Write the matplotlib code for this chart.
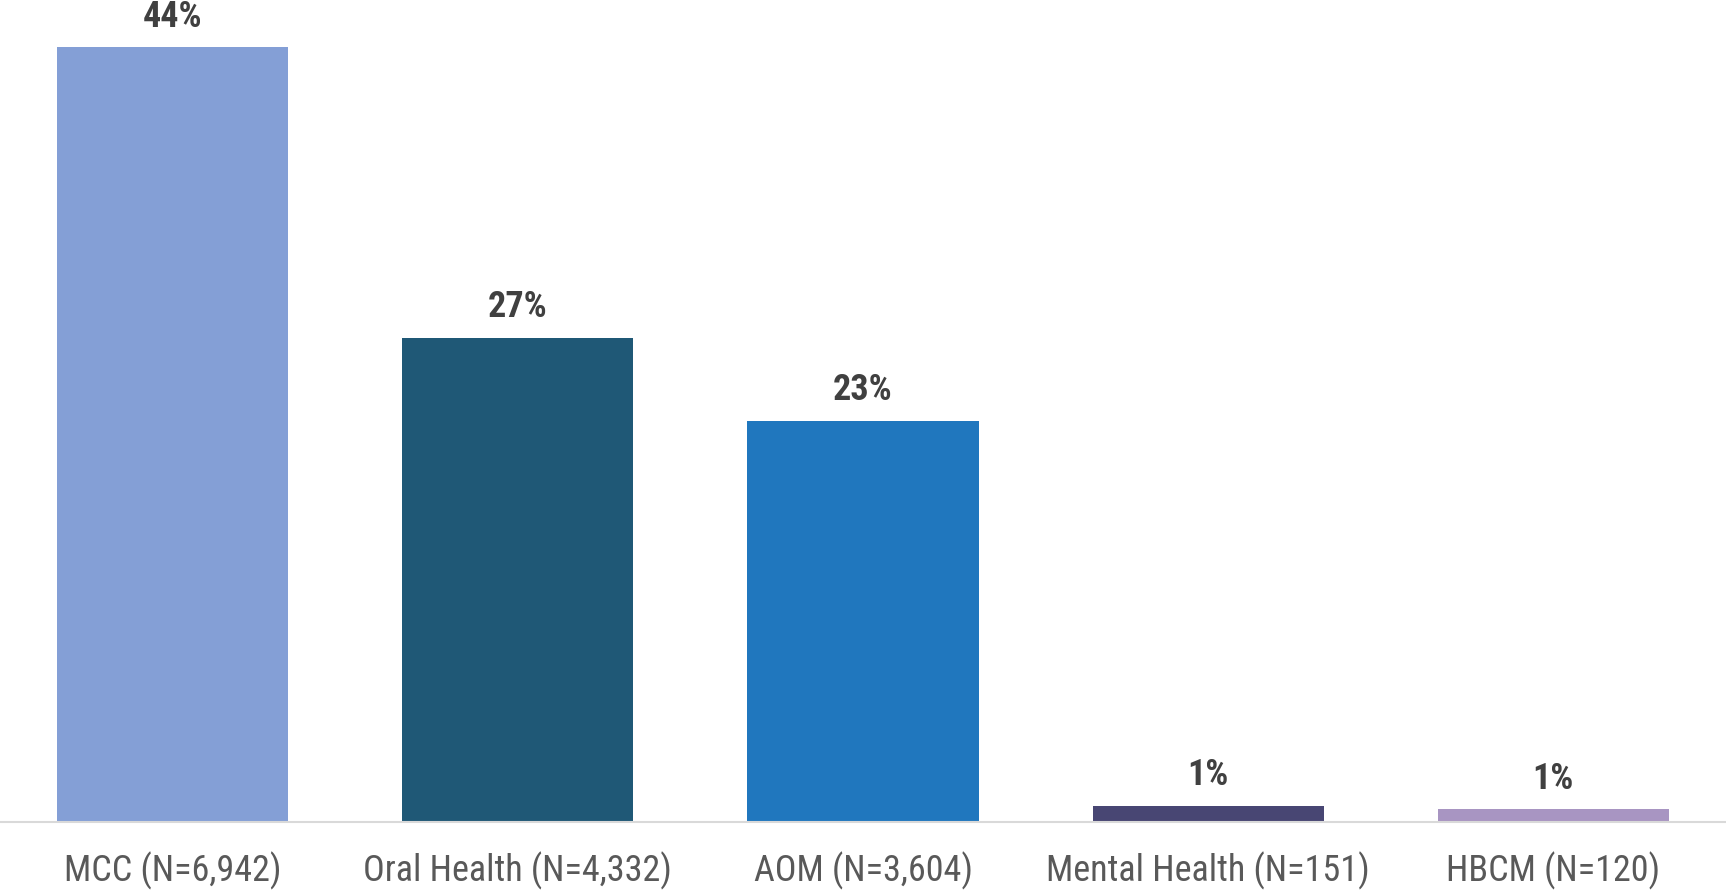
import matplotlib
matplotlib.use('Agg')
import matplotlib.pyplot as plt
from matplotlib import font_manager

categories = ['MCC (N=6,942)', 'Oral Health (N=4,332)', 'AOM (N=3,604)',
              'Mental Health (N=151)', 'HBCM (N=120)']
values = [44.0, 27.5, 22.8, 0.96, 0.76]
labels = ['44%', '27%', '23%', '1%', '1%']
colors = ['#849FD6', '#1F5876', '#2077BE', '#484673', '#A895C2']

# narrow font if there is one, otherwise plain Liberation Sans a bit smaller
names = {f.name for f in font_manager.fontManager.ttflist}
narrow = [n for n in ['Liberation Sans Narrow', 'Arial Narrow', 'Roboto Condensed',
                      'Open Sans Condensed', 'Noto Sans Condensed'] if n in names]
if narrow:
    family, tick_size, lab_size = narrow[0], 26, 26
else:
    family, tick_size, lab_size = 'Liberation Sans', 23, 23
plt.rcParams['font.family'] = [family, 'DejaVu Sans']

fig = plt.figure(figsize=(17.26, 8.93), dpi=100)
ax = fig.add_axes([0.0, 0.079, 1.0, 0.9075])

x = range(len(categories))
bars = ax.bar(x, values, width=0.67, color=colors, zorder=2)

for b, lab in zip(bars, labels):
    ax.annotate(lab, (b.get_x() + b.get_width() / 2, b.get_height()),
                xytext=(0, 9), textcoords='offset points', ha='center', va='bottom',
                fontsize=lab_size, fontweight='bold', color='#404040')

ax.set_xlim(-0.5, 4.5)
ax.set_ylim(0, 46)
ax.set_xticks(list(x))
ax.set_xticklabels(categories, fontsize=tick_size, color='#595959')
ax.tick_params(axis='x', length=0, pad=21)
ax.set_yticks([])
for s in ['top', 'right', 'left']:
    ax.spines[s].set_visible(False)
ax.spines['bottom'].set_color('#D9D9D9')
ax.spines['bottom'].set_linewidth(1.5)

fig.savefig('out.png', dpi=100)
